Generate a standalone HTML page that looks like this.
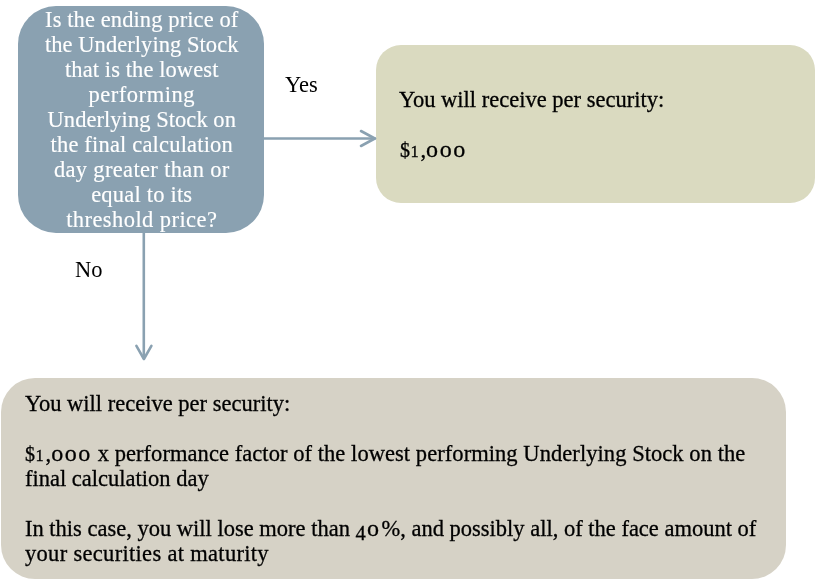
<!DOCTYPE html>
<html><head><meta charset="utf-8">
<style>
html,body{margin:0;padding:0;background:#fff;}
body{width:815px;height:579px;position:relative;overflow:hidden;font-family:"Liberation Serif",serif;}
.box{position:absolute;}
#q{left:18px;top:6px;width:245.5px;height:227px;background:#8AA1B1;border-radius:38px;}
#y{left:376px;top:45px;width:439px;height:157.5px;background:#DADAC0;border-radius:25px;}
#n{left:0.5px;top:378px;width:785.5px;height:200.5px;background:#D6D2C6;border-radius:34px;}
.l{position:absolute;will-change:transform;white-space:pre;font-size:22.5px;line-height:25px;height:25px;}
.w{color:#fff;-webkit-text-stroke:0.15px #fff;left:18.8px;width:245.5px;text-align:center;}
.k{color:#000;-webkit-text-stroke:0.3px #000;}
.ds{font-size:20px;line-height:0;letter-spacing:0.6px}.d1{font-size:16.5px;line-height:0;letter-spacing:1.6px}.d0{font-size:24px;line-height:0;letter-spacing:1.6px}.d4{font-size:20.5px;line-height:0;vertical-align:-3.5px;letter-spacing:1.2px}
svg{position:absolute;left:0;top:0;}
</style></head><body>
<div class="box" id="q"></div>
<div class="box" id="y"></div>
<div class="box" id="n"></div>
<svg width="815" height="579" viewBox="0 0 815 579">
  <g stroke="#8AA1B1" stroke-width="2.6" fill="none" stroke-linecap="round" stroke-linejoin="round">
    <line x1="263" y1="138.5" x2="375" y2="138.5"/>
    <polyline points="361,131 374.8,138.5 361,146"/>
    <line x1="143.8" y1="232" x2="143.8" y2="358"/>
    <polyline points="136.4,345.8 143.9,359 151.4,345.8"/>
  </g>
</svg>
<div class="l w" style="top:7px;letter-spacing:0.1px">Is the ending price of</div>
<div class="l w" style="top:32px;letter-spacing:0.05px">the Underlying Stock</div>
<div class="l w" style="top:57px;letter-spacing:0.09px">that is the lowest</div>
<div class="l w" style="top:82px;letter-spacing:0.55px">performing</div>
<div class="l w" style="top:107px;letter-spacing:0.05px">Underlying Stock on</div>
<div class="l w" style="top:132px;letter-spacing:0.18px">the final calculation</div>
<div class="l w" style="top:157px;letter-spacing:0.34px">day greater than or</div>
<div class="l w" style="top:182px;letter-spacing:0.2px">equal to its</div>
<div class="l w" style="top:207px;letter-spacing:0.43px">threshold price?</div>

<div class="l k" style="left:285px;top:72px;-webkit-text-stroke:0">Yes</div>
<div class="l k" style="left:74.5px;top:257px;-webkit-text-stroke:0">No</div>

<div class="l k" style="left:399px;top:87px">You will receive per security:</div>
<div class="l k" style="left:400px;top:136.5px"><span class="ds">$</span><span class="d1">1</span>,<span class="d0">ooo</span></div>

<div class="l k" style="left:25px;top:391px">You will receive per security:</div>
<div class="l k" style="left:25px;top:441px;letter-spacing:0.06px"><span class="ds">$</span><span class="d1">1</span>,<span class="d0">ooo</span> x performance factor of the lowest performing Underlying Stock on the</div>
<div class="l k" style="left:25px;top:466px">final calculation day</div>
<div class="l k" style="left:25px;top:516px">In this case, you will lose more than <span class="d4">4</span><span class="d0" style="letter-spacing:2.4px">o</span>%, and possibly all, of the face amount of</div>
<div class="l k" style="left:25px;top:541px;letter-spacing:0.31px">your securities at maturity</div>
</body></html>
